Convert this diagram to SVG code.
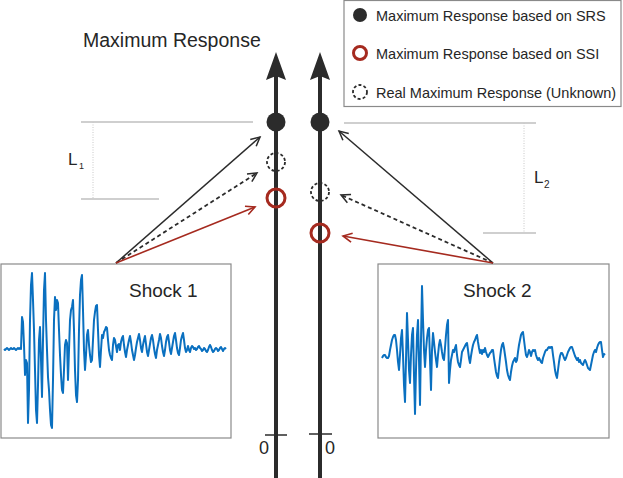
<svg xmlns="http://www.w3.org/2000/svg" width="623" height="478" viewBox="0 0 623 478">
<style>
text{font-family:"Liberation Sans",Arial,sans-serif;fill:#262626}
.guide{stroke:#a0a0a0;stroke-width:1.2;fill:none}
.dot{stroke:#c8c8c8;stroke-width:1;stroke-dasharray:1,1.5;fill:none}
.axis{stroke:#2b2b2b;stroke-width:4;fill:none}
.tick{stroke:#2b2b2b;stroke-width:1.5}
.head{fill:#2b2b2b}
.srs{fill:#2b2b2b}
.ssi{fill:none;stroke:#a52a1f;stroke-width:3}
.real{fill:none;stroke:#2b2b2b;stroke-width:1.8;stroke-dasharray:3,2.2}
.box{fill:#fff;stroke:#8a8a8a;stroke-width:1.2}
.wave{fill:none;stroke:#0a70c0;stroke-width:2;stroke-linejoin:round}
.ab{stroke:#2b2b2b;stroke-width:1.5;fill:none}
.ad{stroke:#2b2b2b;stroke-width:1.8;stroke-dasharray:4,3;fill:none}
.ar{stroke:#a52a1f;stroke-width:1.6;fill:none}
</style>
<defs>
<marker id="mb" markerUnits="userSpaceOnUse" markerWidth="14" markerHeight="14" refX="10" refY="5" orient="auto" viewBox="0 0 14 10">
<path d="M1,0.5 L10,5 L1,9.5" fill="none" stroke="#2b2b2b" stroke-width="1.5" stroke-dasharray="none"/>
</marker>
<marker id="mr" markerUnits="userSpaceOnUse" markerWidth="14" markerHeight="14" refX="10" refY="5" orient="auto" viewBox="0 0 14 10">
<path d="M1,0.5 L10,5 L1,9.5" fill="none" stroke="#a52a1f" stroke-width="1.6" stroke-dasharray="none"/>
</marker>
</defs>

<g id="legend">
<rect x="344" y="0.5" width="277" height="106" fill="#fff" stroke="#8a8a8a" stroke-width="1.2"/>
<circle cx="360" cy="15" r="7" class="srs"/>
<text x="376" y="21" font-size="14.5">Maximum Response based on SRS</text>
<circle cx="360" cy="53" r="6.5" class="ssi"/>
<text x="376" y="59" font-size="14.5">Maximum Response based on SSI</text>
<circle cx="360" cy="92" r="7" class="real"/>
<text x="376" y="98" font-size="14.5">Real Maximum Response (Unknown)</text>
</g>

<g id="title">
<text x="83" y="47" font-size="19.5">Maximum Response</text>
</g>

<g id="L1">
<line x1="81" y1="122" x2="253" y2="122" class="guide"/>
<line x1="81" y1="199" x2="159" y2="199" class="guide"/>
<line x1="93" y1="122" x2="93" y2="199" class="dot"/>
<text x="68" y="165" font-size="17">L</text>
<text x="79" y="169" font-size="9">1</text>
</g>

<g id="L2">
<line x1="344" y1="123" x2="536" y2="123" class="guide"/>
<line x1="483" y1="233" x2="536" y2="233" class="guide"/>
<line x1="524" y1="123" x2="524" y2="233" class="dot"/>
<text x="534" y="183" font-size="17">L</text>
<text x="544" y="188" font-size="10">2</text>
</g>

<g id="axis1">
<line x1="276" y1="76" x2="276" y2="478" class="axis"/>
<polygon points="276,52 266,80 276,76 286,80" class="head"/>
<line x1="265" y1="435" x2="287" y2="435" class="tick"/>
<text x="259" y="454" font-size="18">0</text>
</g>

<g id="axis2">
<line x1="320" y1="76" x2="320" y2="478" class="axis"/>
<polygon points="320,52 310,80 320,76 330,80" class="head"/>
<line x1="309" y1="434" x2="332" y2="434" class="tick"/>
<text x="325" y="454" font-size="18">0</text>
</g>

<g id="shock1">
<rect x="1" y="264" width="230" height="174" class="box"/>
<text x="129" y="297" font-size="19">Shock 1</text>
<polyline class="wave" points="4,349 5,350 6,349 7,348 8,349 9,350 10,349 11,348 12,349 13,349 14,348 15,349 16,350 17,349 18,348 19,349 20,348 21,349 22,317 23,322 24,345 25,375 26,360 27,363 28,423 29,390 30,320 31,285 32,273 33,300 34,330 35,370 36,410 37,423 38,385 39,340 40,327 41,360 42,397 43,340 44,290 45,273 46,320 47,350 48,377 49,390 50,410 51,425 52,428 53,380 54,320 55,297 56,310 57,300 58,303 59,330 60,355 61,375 62,390 63,393 64,370 65,345 66,340 67,343 68,380 69,350 70,320 71,310 72,307 73,300 74,330 75,370 76,395 77,402 78,380 79,330 80,295 81,280 82,275 83,310 84,350 85,370 86,355 87,335 88,330 89,345 90,355 91,362 92,360 93,340 94,320 95,312 96,306 97,305 98,330 99,355 100,367 101,350 102,335 103,338 104,332 105,330 106,327 107,328 108,340 109,350 110,355 111,358 112,360 113,345 114,338 115,340 116,346 117,352 118,345 119,344 120,350 121,342 122,338 123,336 124,345 125,352 126,357 127,350 128,345 129,340 130,336 131,342 132,350 133,355 134,360 135,355 136,348 137,342 138,338 139,334 140,340 141,348 142,352 143,345 144,340 145,336 146,344 147,352 148,356 149,350 150,344 151,338 152,335 153,340 154,348 155,354 156,358 157,350 158,345 159,340 160,334 161,338 162,346 163,352 164,356 165,350 166,342 167,337 168,335 169,342 170,350 171,354 172,348 173,342 174,336 175,333 176,340 177,348 178,353 179,355 180,348 181,340 182,336 183,333 184,340 185,348 186,352 187,350 188,346 189,350 190,352 191,348 192,346 193,347 194,349 195,348 196,350 197,349 198,347 199,346 200,348 201,349 202,351 203,350 204,348 205,349 206,351 207,352 208,350 209,347 210,345 211,347 212,350 213,352 214,351 215,349 216,348 217,349 218,351 219,350 220,348 221,347 222,349 223,351 224,349 225,348 226,349"/>
</g>

<g id="shock2">
<rect x="378" y="264" width="231" height="174" class="box"/>
<text x="463" y="297" font-size="19">Shock 2</text>
<polyline class="wave" points="382,358 383,356 384,355 385,355 386,357 387,358 388,358 389,356 390,350 391,345 392,340 393,337 394,335 395,335 396,340 397,350 398,362 399,370 400,355 401,338 402,330 403,355 404,385 405,402 406,360 407,313 408,340 409,370 410,383 411,355 412,335 413,328 414,375 415,414 416,370 417,335 418,320 419,360 420,405 421,340 422,286 423,320 424,350 425,367 426,350 427,338 428,330 429,328 430,360 431,390 432,350 433,333 434,342 435,352 436,360 437,367 438,355 439,345 440,340 441,345 442,352 443,358 444,360 445,348 446,335 447,325 448,320 449,383 450,370 451,360 452,355 453,350 454,352 455,348 456,345 457,355 458,362 459,365 460,367 461,360 462,352 463,350 464,348 465,346 466,344 467,343 468,350 469,358 470,363 471,356 472,350 473,345 474,342 475,340 476,337 477,335 478,342 479,348 480,353 481,350 482,354 483,350 484,352 485,348 486,352 487,355 488,357 489,355 490,353 491,352 492,350 493,350 494,358 495,365 496,372 497,376 498,378 499,368 500,358 501,350 502,345 503,343 504,348 505,355 506,362 507,370 508,375 509,378 510,380 511,372 512,366 513,362 514,360 515,358 516,362 517,360 518,352 519,345 520,340 521,335 522,333 523,332 524,340 525,348 526,355 527,357 528,354 529,350 530,352 531,356 532,352 533,350 534,351 535,350 536,355 537,358 538,360 539,358 540,360 541,362 542,363 543,358 544,355 545,352 546,350 547,350 548,348 549,347 550,348 551,347 552,347 553,355 554,362 555,370 556,375 557,378 558,370 559,362 560,356 561,353 562,353 563,355 564,358 565,360 566,358 567,355 568,352 569,350 570,348 571,347 572,347 573,350 574,353 575,356 576,358 577,360 578,358 579,362 580,360 581,363 582,364 583,365 584,362 585,360 586,362 587,365 588,368 589,369 590,370 591,365 592,360 593,355 594,352 595,350 596,352 597,348 598,345 599,343 600,342 601,342 602,350 603,357 604,354 605,355"/>
</g>

<g id="connectors">
<line x1="116" y1="263" x2="260" y2="137" class="ab" marker-end="url(#mb)"/>
<line x1="116" y1="263" x2="257" y2="173" class="ad" marker-end="url(#mb)"/>
<line x1="116" y1="263" x2="255" y2="207" class="ar" marker-end="url(#mr)"/>
<line x1="493" y1="263" x2="339" y2="131" class="ab" marker-end="url(#mb)"/>
<line x1="493" y1="263" x2="341" y2="195" class="ad" marker-end="url(#mb)"/>
<line x1="493" y1="263" x2="343" y2="236" class="ar" marker-end="url(#mr)"/>
</g>

<g id="points1">
<circle cx="276" cy="122" r="9.5" class="srs"/>
<circle cx="276" cy="162" r="9" class="real"/>
<circle cx="276" cy="198" r="9" class="ssi"/>
</g>
<g id="points2">
<circle cx="320" cy="122" r="9.5" class="srs"/>
<circle cx="320" cy="192" r="9" class="real"/>
<circle cx="320" cy="233" r="9" class="ssi"/>
</g>
</svg>
